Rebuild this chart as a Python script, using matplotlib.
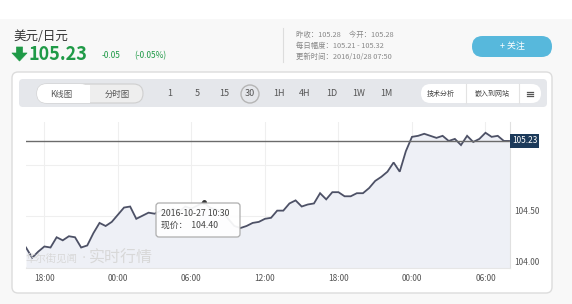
import datetime as dt
import numpy as np
import matplotlib
matplotlib.use('Agg')
import matplotlib.pyplot as plt
import matplotlib.dates as mdates
import matplotlib.transforms as mtransforms
from matplotlib.patches import FancyBboxPatch, Rectangle, Circle, Polygon

plt.rcParams['font.family'] = ['Noto Sans CJK SC', 'DejaVu Sans']

# 30-minute prices, 2016-10-26 16:30 .. 2016-10-28 08:00
prices = [104.19, 104.09, 104.15, 104.20, 104.19, 104.29, 104.26, 104.30, 104.29, 104.19,
          104.21, 104.33, 104.43, 104.40, 104.44, 104.51, 104.58, 104.59, 104.47, 104.50,
          104.53, 104.52, 104.55, 104.52, 104.57, 104.54, 104.59, 104.57, 104.60, 104.63,
          104.58, 104.56, 104.54, 104.47, 104.40, 104.38, 104.40, 104.43, 104.44, 104.47,
          104.48, 104.55, 104.55, 104.62, 104.65, 104.59, 104.61, 104.62, 104.72, 104.66,
          104.73, 104.73, 104.69, 104.69, 104.72, 104.72, 104.77, 104.84, 104.88, 104.93,
          105.02, 104.93, 105.13, 105.27, 105.28, 105.30, 105.28, 105.26, 105.28, 105.23,
          105.25, 105.19, 105.28, 105.22, 105.25, 105.31, 105.27, 105.28, 105.23, 105.23]
start = dt.datetime(2016, 10, 26, 16, 30)
times = [start + dt.timedelta(minutes=30 * i) for i in range(len(prices))]

current = 105.23
change = '-0.05'
change_pct = '(-0.05%)'
pair = '美元/日元'
info_lines = ['昨收：105.28     今开：105.28',
              '每日幅度：105.21 - 105.32',
              '更新时间：2016/10/28 07:50']
periods = ['1', '5', '15', '30', '1H', '4H', '1D', '1W', '1M']
period_x = [170, 197, 224, 250, 279, 305, 332, 359, 386]
y_ticks = [104.0, 104.5, 105.0]
y_ticklabels = ['104.00', '104.50', '']
tip_time = '2016-10-27 10:30'
tip_price = '104.40'
hover_idx = 29

W, H = 572, 304
fig = plt.figure(figsize=(W / 100, H / 100), dpi=100)
fig.patch.set_facecolor('#f8f8f8')


def pixel_axes(z):
    a = fig.add_axes([0, 0, 1, 1], zorder=z)
    a.set_xlim(0, W)
    a.set_ylim(H, 0)
    a.axis('off')
    a.patch.set_alpha(0)
    return a


bg = pixel_axes(0)
bg.add_patch(Rectangle((0, 0), W, 19, color='white', lw=0))

green = '#1f9a47'
bg.text(13, 37, pair, fontsize=9, color='#333333', va='center')
# down-arrow icon
bg.add_patch(Polygon([(16.5, 47), (22.5, 47), (22.5, 53), (27, 53), (19.5, 61),
                      (12, 53), (16.5, 53)], closed=True, fc=green, ec=green, lw=0.5,
                     joinstyle='round'))
bg.text(29, 54, '105.23', fontsize=13, color=green, va='center', fontweight='bold')
bg.text(102, 56, change, fontsize=6, color=green, va='center')
bg.text(134, 56, change_pct, fontsize=6, color=green, va='center')
bg.plot([283, 283], [28, 62], color='#dddddd', lw=0.8)
for k, line in enumerate(info_lines):
    bg.text(296, 35 + 11 * k, line, fontsize=5.3, color='#888888', va='center')

bg.add_patch(FancyBboxPatch((472, 36), 80, 21, boxstyle='round,pad=0,rounding_size=10.5',
                            fc='#57b8dc', ec='none'))
bg.text(512, 46.5, '+ 关注', fontsize=6.5, color='white', ha='center', va='center')

# chart card
bg.add_patch(FancyBboxPatch((12, 72), 540, 221, boxstyle='round,pad=0,rounding_size=6',
                            fc='white', ec='#dcdcdc', lw=1))
bg.add_patch(FancyBboxPatch((19, 79), 528, 28, boxstyle='round,pad=0,rounding_size=4',
                            fc='#e5e7eb', ec='none'))
bg.add_patch(FancyBboxPatch((37, 84), 106, 19, boxstyle='round,pad=0,rounding_size=9.5',
                            fc='#eeeeee', ec='#cfcfcf', lw=0.8))
bg.add_patch(FancyBboxPatch((37, 84), 53, 19, boxstyle='round,pad=0,rounding_size=9.5',
                            fc='white', ec='none'))
bg.add_patch(Rectangle((78, 84.5), 12, 18, fc='white', ec='none'))
bg.text(61, 94, 'K线图', fontsize=6, color='#555555', ha='center', va='center')
bg.text(117, 94, '分时图', fontsize=6, color='#555555', ha='center', va='center')
for px, lab in zip(period_x, periods):
    bg.text(px, 94, lab, fontsize=6.5, color='#555555', ha='center', va='center')
bg.add_patch(Circle((250, 94), 9, fc='none', ec='#b5b5b5', lw=1))
bg.add_patch(FancyBboxPatch((421, 84), 120, 19, boxstyle='round,pad=0,rounding_size=9.5',
                            fc='white', ec='none'))
bg.plot([466, 466], [84, 103], color='#e3e3e3', lw=0.8)
bg.plot([519, 519], [84, 103], color='#e3e3e3', lw=0.8)
bg.text(441, 94, '技术分析', fontsize=5, color='#444444', ha='center', va='center')
bg.text(492, 94, '嵌入到网站', fontsize=5, color='#444444', ha='center', va='center')
for dy in (-2, 0, 2):
    bg.plot([527, 533], [94 + dy, 94 + dy], color='#555555', lw=0.9)

# price chart
left, right, top, bottom = 26, 510, 122, 268
ax = fig.add_axes([left / W, 1 - bottom / H, (right - left) / W, (bottom - top) / H], zorder=1)
ax.set_facecolor('none')
ax.fill_between(times, prices, 103.9, color='#eef0f6', lw=0)
ax.plot(times, prices, color='#4d5166', lw=1.3, solid_joinstyle='miter')
ax.axhline(current, color='#6b6b6b', lw=1)
ax.set_xlim(times[0], times[-1])
ax.set_ylim(103.99, 105.415)
ax.xaxis.set_major_locator(mdates.HourLocator(byhour=[0, 6, 12, 18]))
ax.xaxis.set_major_formatter(mdates.DateFormatter('%H:%M'))
ax.set_yticks(y_ticks)
ax.set_yticklabels(y_ticklabels)
ax.yaxis.tick_right()
ax.grid(True, color='#efefef', lw=0.8)
ax.set_axisbelow(True)
ax.tick_params(axis='both', length=0, labelsize=6, colors='#555555')
ax.tick_params(axis='x', pad=4)
ax.tick_params(axis='y', pad=3)
for lab in ax.get_yticklabels():
    lab.set_va('bottom')
for side in ['top', 'left']:
    ax.spines[side].set_visible(False)
ax.spines['right'].set_color('#e0e0e0')
ax.spines['bottom'].set_color('#e6e6e6')
ax.spines['right'].set_linewidth(0.8)
ax.spines['bottom'].set_linewidth(0.8)

trans = mtransforms.blended_transform_factory(ax.transAxes, ax.transData)
ax.text(1.004, current, '105.23', transform=trans, fontsize=6, color='white', va='center',
        bbox=dict(boxstyle='square,pad=0.25', fc='#1c3a5a', ec='none'))

# hover marker
ax.plot(times[hover_idx], prices[hover_idx], 'o', ms=2.5, color='#333333', zorder=5)

# foreground: watermark and tooltip
fg = pixel_axes(2)
fg.text(26, 259, '华尔街见闻', fontsize=7.5, color='#d8d8d8', va='center')
fg.text(83.5, 258, '·', fontsize=6, color='#d8d8d8', va='center', ha='center')
fg.text(89, 258, '实时行情', fontsize=11.5, color='#d8d8d8', va='center')
fg.add_patch(FancyBboxPatch((156, 203), 84, 34, boxstyle='round,pad=0,rounding_size=3',
                            fc='white', ec='#a8a8a8', lw=0.9, alpha=0.93))
fg.text(161, 213, tip_time, fontsize=6.3, color='#444444', va='center')
fg.text(161, 225, f'现价：  {tip_price}', fontsize=6.3, color='#444444', va='center')

fig.savefig('out.png', dpi=100)
